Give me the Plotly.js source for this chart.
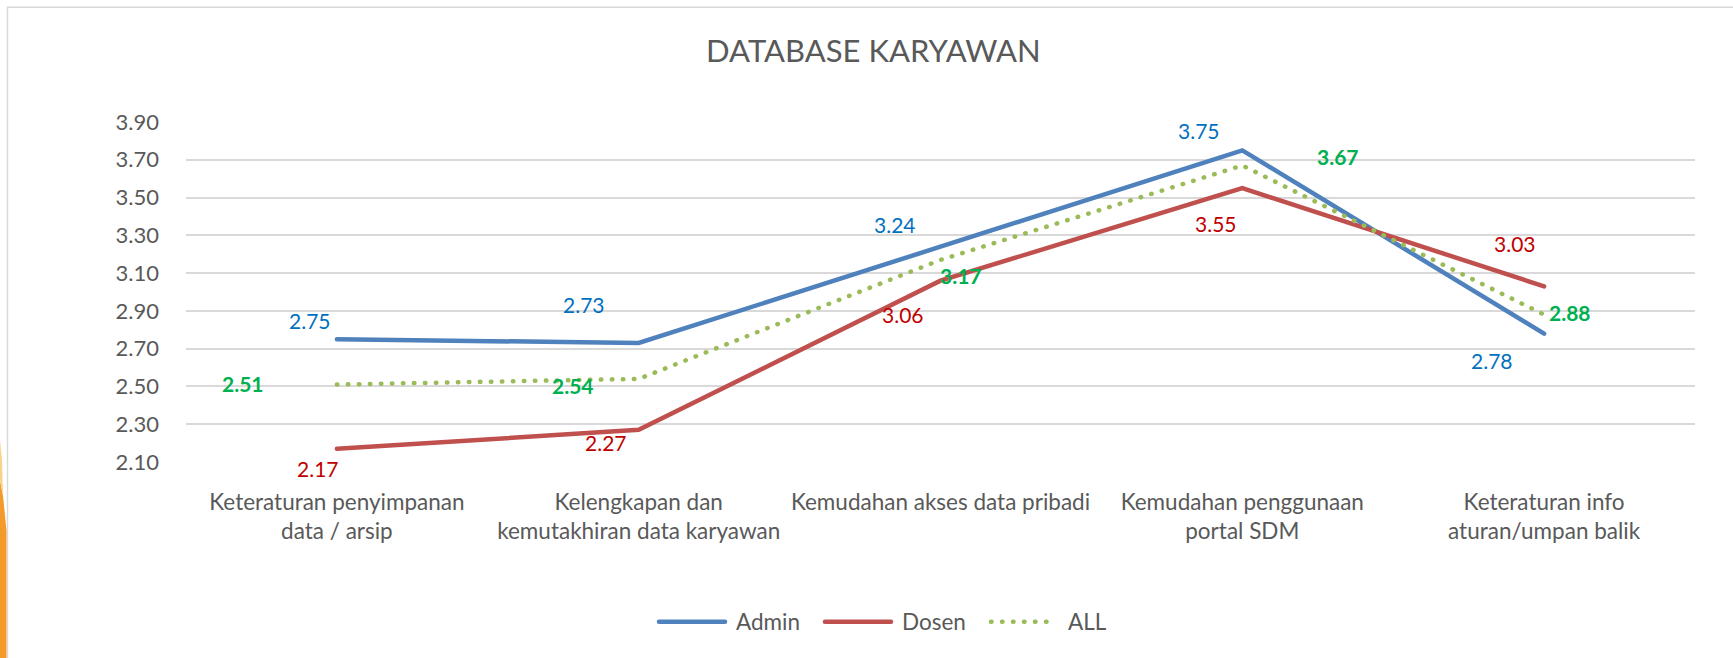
<!DOCTYPE html>
<html>
<head>
<meta charset="utf-8">
<script src="https://cdn.plot.ly/plotly-3.0.1.min.js"></script>
<style>
html,body{margin:0;padding:0;background:#ffffff;}
#chart{width:1733px;height:658px;}
.scatterlayer .js-line, .legendlines path{stroke-linecap:round;}
</style>
</head>
<body>
<div id="chart"></div>
<script>
// ---- data ----
const categories = [
  "Keteraturan penyimpanan data / arsip",
  "Kelengkapan dan kemutakhiran data karyawan",
  "Kemudahan akses data pribadi",
  "Kemudahan penggunaan portal SDM",
  "Keteraturan info aturan/umpan balik"
];
const categoryLabels = [
  "Keteraturan penyimpanan<br>data / arsip",
  "Kelengkapan dan<br>kemutakhiran data karyawan",
  "Kemudahan akses data pribadi",
  "Kemudahan penggunaan<br>portal SDM",
  "Keteraturan info<br>aturan/umpan balik"
];
const seriesNames = ["Admin", "Dosen", "ALL"];
const adminValues = [2.75, 2.73, 3.24, 3.75, 2.78];
const dosenValues = [2.17, 2.27, 3.06, 3.55, 3.03];
const allValues   = [2.51, 2.54, 3.17, 3.67, 2.88];
const yTickValues = [2.10, 2.30, 2.50, 2.70, 2.90, 3.10, 3.30, 3.50, 3.70, 3.90];
const yTickLabels = ["2.10", "2.30", "2.50", "2.70", "2.90", "3.10", "3.30", "3.50", "3.70", "3.90"];
const chartTitle = "DATABASE KARYAWAN";

// ---- styling (positions / colours) ----
const FONT = "Lato, 'Open Sans', sans-serif";
const TEXT_GREY = "#595959";
const lineColors = ["#4F81BD", "#C0504D", "#9BBB59"];
const labelColors = ["#0070C0", "#C00000", "#00B050"];
const labelBold = [false, false, true];
// data-label pixel offsets [xshift, yshift] per series / point
const labelOffsets = [
  [[-27, 19], [-55, 38], [-46, 22], [-43, 20], [-52, -27]],
  [[-19, -20], [-33, -13], [-38, -34], [-26, -35], [-29, 43]],
  [[-94, 1], [-66, -7], [20, -16], [96, 9], [26, 2]]
];

const W = 1733, H = 658;
const M = {l: 186, r: 38, t: 122, b: 196.4};
const plotW = W - M.l - M.r, plotH = H - M.t - M.b;
const px2x = p => (p - M.l) / plotW;
const py2y = p => (H - M.b - p) / plotH;

const seriesValues = [adminValues, dosenValues, allValues];
const dashes = ["solid", "solid", "0.5px,10.5px"];

const traces = seriesValues.map((vals, i) => ({
  type: "scatter",
  mode: "lines",
  name: seriesNames[i],
  x: categories,
  y: vals,
  line: {color: lineColors[i], width: 4.5, dash: dashes[i]},
  hoverinfo: "x+y+name"
}));

const annotations = [];
seriesValues.forEach((vals, i) => {
  vals.forEach((v, j) => {
    annotations.push({
      x: categories[j], y: v, xref: "x", yref: "y",
      text: labelBold[i] ? "<b>" + v.toFixed(2) + "</b>" : v.toFixed(2),
      showarrow: false,
      xshift: labelOffsets[i][j][0],
      yshift: labelOffsets[i][j][1],
      font: {family: FONT, size: 21, color: labelColors[i]}
    });
  });
});

const shapes = [
  // chart frame
  {type: "rect", xref: "paper", yref: "paper",
   x0: px2x(7.5), x1: px2x(1760), y0: py2y(7.5), y1: py2y(690),
   line: {color: "#d9d9d9", width: 1.5}, fillcolor: "rgba(0,0,0,0)", layer: "below"},
  // orange decoration at the left edge (outside chart)
  {type: "path", xref: "paper", yref: "paper",
   path: "M " + px2x(0) + "," + py2y(480) + " L " + px2x(3) + "," + py2y(495) +
         " L " + px2x(6.5) + "," + py2y(530) + " L " + px2x(6.5) + "," + py2y(658) +
         " L " + px2x(0) + "," + py2y(658) + " Z",
   fillcolor: "#F39A2B", line: {width: 0}, layer: "below"},
  {type: "path", xref: "paper", yref: "paper",
   path: "M " + px2x(0) + "," + py2y(440) + " L " + px2x(2) + "," + py2y(460) +
         " L " + px2x(3) + "," + py2y(495) + " L " + px2x(0) + "," + py2y(480) + " Z",
   fillcolor: "#F9D28A", line: {width: 0}, layer: "below"}
];

const layout = {
  width: W, height: H,
  margin: M,
  paper_bgcolor: "#ffffff",
  plot_bgcolor: "#ffffff",
  font: {family: FONT, color: TEXT_GREY, size: 21},
  title: {
    text: chartTitle,
    font: {family: FONT, size: 31, color: TEXT_GREY},
    x: 0.504, xref: "container", xanchor: "center",
    y: 1 - 51 / H, yref: "container", yanchor: "middle"
  },
  showlegend: true,
  legend: {
    orientation: "h",
    x: 654 / W, xref: "container", xanchor: "left",
    y: 1 - 622 / H, yref: "container", yanchor: "middle",
    font: {family: FONT, size: 22.5, color: TEXT_GREY},
    itemwidth: 72,
    entrywidth: 79,
    entrywidthmode: "pixels",
    bgcolor: "rgba(0,0,0,0)"
  },
  xaxis: {
    type: "category",
    autorange: false,
    range: [-0.5, 4.5],
    tickvals: categories,
    ticktext: categoryLabels,
    showgrid: false, showline: false, zeroline: false,
    ticks: "",
    ticklabelstandoff: 24,
    tickfont: {family: FONT, size: 22.5, color: TEXT_GREY},
    fixedrange: true
  },
  yaxis: {
    autorange: false,
    range: [2.0999, 3.9001],
    tickvals: yTickValues,
    ticktext: yTickLabels,
    showgrid: true, gridcolor: "#d9d9d9", gridwidth: 1.5,
    showline: false, zeroline: false,
    ticks: "",
    ticklabelstandoff: 26,
    tickfont: {family: FONT, size: 22, color: TEXT_GREY},
    fixedrange: true
  },
  annotations: annotations,
  shapes: shapes
};

Plotly.newPlot("chart", traces, layout, {displayModeBar: false, responsive: false}).then(gd => {
  // lengthen the legend line samples to match the reference
  document.querySelectorAll(".legendlines path").forEach(p => p.setAttribute("d", "M5,0h66"));
});
</script>
</body>
</html>
